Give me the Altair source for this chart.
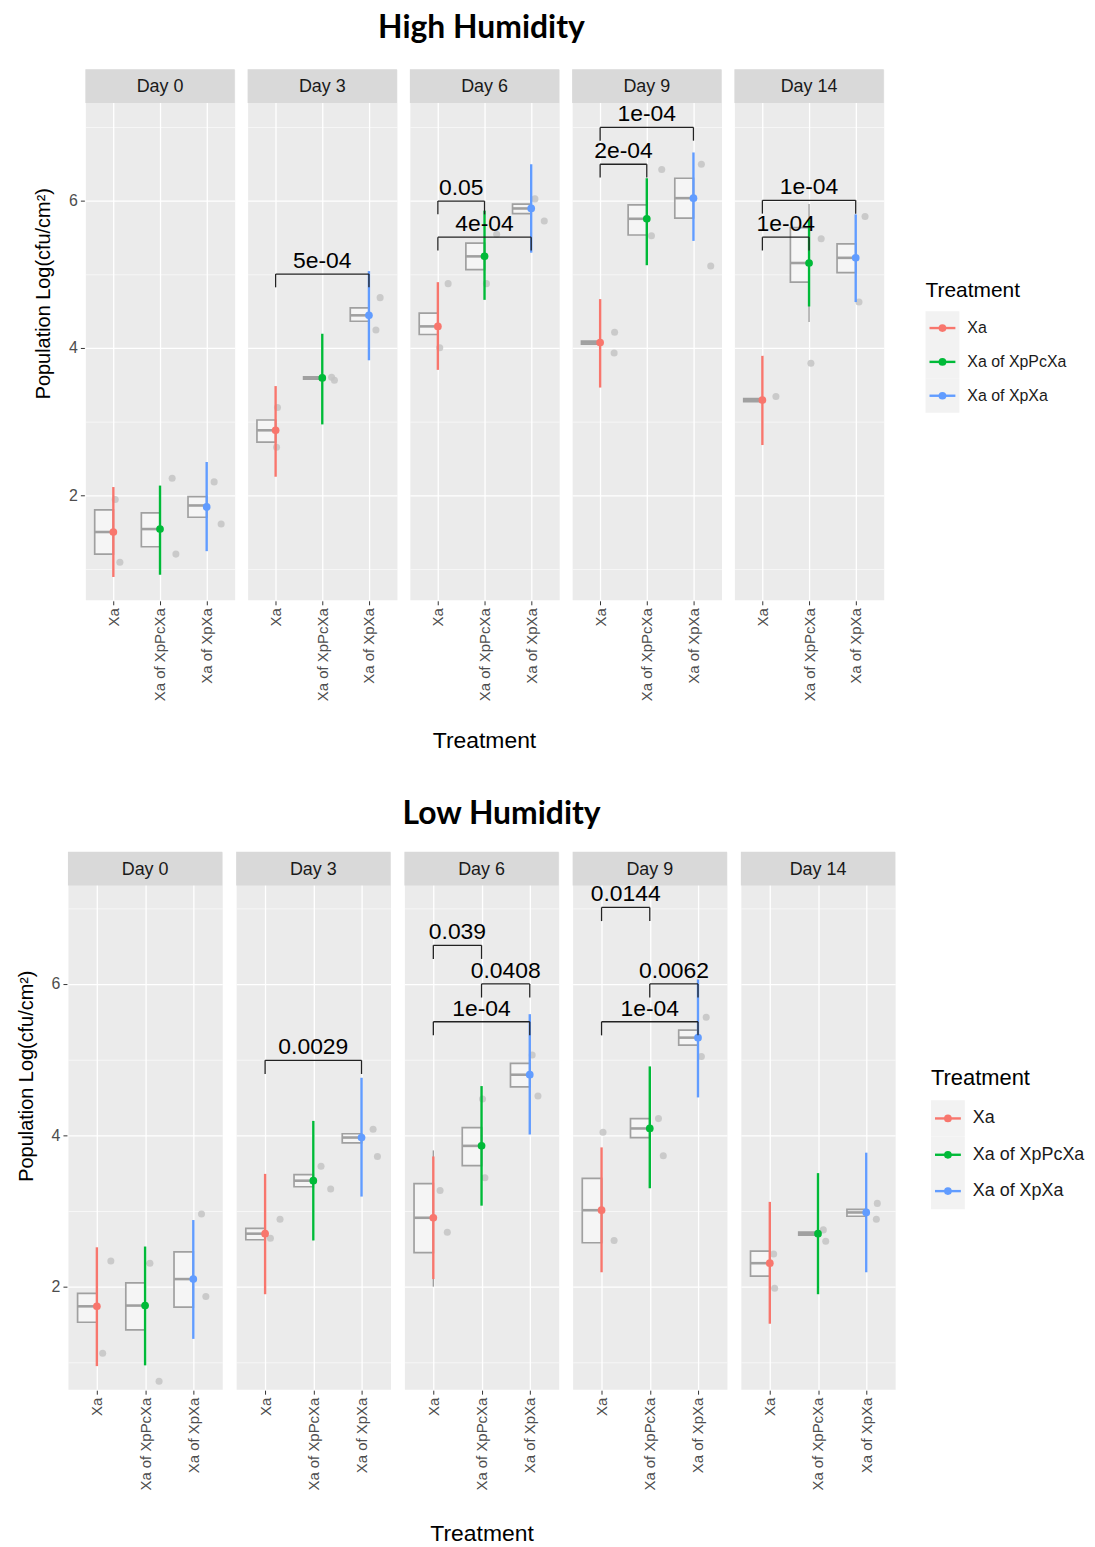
import json
import altair as alt
import pandas as pd

days = ["Day 0", "Day 3", "Day 6", "Day 9", "Day 14"]
treatments = ["Xa", "Xa of XpPcXa", "Xa of XpXa"]
colors = ["#F8766D", "#00BA38", "#619CFF"]

# ---------------- High humidity ----------------
hi_mean = [[1.50, 1.54, 1.84], [2.88, 3.59, 4.44], [4.29, 5.24, 5.89], [4.07, 5.75, 6.03], [3.29, 5.15, 5.22]]
hi_err_lo = [[0.89, 0.92, 1.24], [2.25, 2.96, 3.83], [3.70, 4.65, 5.29], [3.46, 5.12, 5.45], [2.68, 4.56, 4.62]]
hi_err_hi = [[2.11, 2.13, 2.45], [3.48, 4.19, 5.04], [4.89, 5.86, 6.49], [4.66, 6.30, 6.65], [3.89, 5.74, 5.81]]
hi_q1 = [[1.20, 1.30, 1.70], [2.72, 3.575, 4.36], [4.18, 5.06, 5.82], [4.05, 5.53, 5.76], [3.27, 4.89, 5.02]]
hi_med = [[1.50, 1.54, 1.86], [2.88, 3.59, 4.44], [4.29, 5.24, 5.89], [4.07, 5.75, 6.03], [3.29, 5.15, 5.22]]
hi_q3 = [[1.80, 1.76, 1.98], [3.02, 3.605, 4.54], [4.47, 5.42, 5.95], [4.09, 5.94, 6.30], [3.31, 5.63, 5.41]]
hi_wlo = [[1.20, 1.30, 1.70], [2.72, 3.575, 4.36], [4.18, 5.06, 5.82], [4.05, 5.53, 5.76], [3.27, 4.35, 5.02]]
hi_whi = [[1.80, 1.76, 1.98], [3.02, 3.605, 4.54], [4.47, 5.42, 5.95], [4.09, 5.94, 6.30], [3.31, 5.95, 5.41]]
# (day index, treatment index, horizontal jitter, value)
hi_points = [
    (0, 0, 0.04, 1.94), (0, 0, 0.14, 1.09), (0, 1, 0.26, 2.23), (0, 1, 0.34, 1.20), (0, 2, 0.16, 2.18), (0, 2, 0.31, 1.61),
    (1, 0, 0.04, 3.19), (1, 0, 0.02, 2.65), (1, 1, 0.20, 3.60), (1, 1, 0.26, 3.56), (1, 2, 0.24, 4.68), (1, 2, 0.15, 4.24),
    (2, 0, 0.22, 4.87), (2, 0, 0.04, 4.00), (2, 1, 0.26, 5.54), (2, 1, 0.04, 4.87), (2, 2, 0.08, 6.02), (2, 2, 0.28, 5.72),
    (3, 0, 0.31, 4.21), (3, 0, 0.30, 3.93), (3, 1, 0.32, 6.42), (3, 1, 0.10, 5.52), (3, 2, 0.17, 6.49), (3, 2, 0.37, 5.11),
    (4, 0, 0.29, 3.34), (4, 1, 0.26, 5.48), (4, 1, 0.04, 3.79), (4, 2, 0.20, 5.78), (4, 2, 0.07, 4.62),
]
# (day index, from treatment, to treatment, bracket height, label)
hi_brackets = [
    (1, 0, 2, 5.00, "5e-04"),
    (2, 0, 1, 5.99, "0.05"), (2, 0, 2, 5.50, "4e-04"),
    (3, 0, 1, 6.49, "2e-04"), (3, 0, 2, 6.99, "1e-04"),
    (4, 0, 2, 6.00, "1e-04"), (4, 0, 1, 5.50, "1e-04"),
]

# ---------------- Low humidity ----------------
lo_mean = [[1.74, 1.75, 2.10], [2.70, 3.40, 3.97], [2.91, 3.86, 4.80], [3.01, 4.09, 5.29], [2.31, 2.70, 2.98]]
lo_err_lo = [[0.95, 0.96, 1.31], [1.90, 2.61, 3.19], [2.10, 3.07, 4.01], [2.19, 3.30, 4.50], [1.51, 1.90, 2.19]]
lo_err_hi = [[2.52, 2.53, 2.88], [3.49, 4.19, 4.76], [3.72, 4.65, 5.60], [3.84, 4.91, 6.06], [3.12, 3.50, 3.77]]
lo_q1 = [[1.53, 1.43, 1.73], [2.62, 3.32, 3.90], [2.45, 3.60, 4.64], [2.58, 3.97, 5.19], [2.14, 2.68, 2.93]]
lo_med = [[1.74, 1.75, 2.10], [2.70, 3.40, 3.97], [2.91, 3.86, 4.80], [3.01, 4.09, 5.29], [2.31, 2.70, 2.98]]
lo_q3 = [[1.91, 2.05, 2.46], [2.77, 3.48, 4.02], [3.36, 4.10, 4.95], [3.43, 4.22, 5.39], [2.47, 2.72, 3.02]]
lo_wlo = [[1.53, 1.43, 1.73], [2.62, 3.32, 3.90], [2.00, 3.60, 4.64], [2.58, 3.97, 5.19], [2.14, 2.68, 2.93]]
lo_whi = [[1.91, 2.05, 2.46], [2.77, 3.48, 4.02], [3.80, 4.10, 4.95], [3.43, 4.22, 5.39], [2.47, 2.72, 3.02]]
lo_points = [
    (0, 0, 0.29, 2.34), (0, 0, 0.12, 1.12), (0, 1, 0.10, 2.31), (0, 1, 0.29, 0.75), (0, 2, 0.17, 2.96), (0, 2, 0.26, 1.87),
    (1, 0, 0.31, 2.89), (1, 0, 0.11, 2.64), (1, 1, 0.16, 3.59), (1, 1, 0.36, 3.29), (1, 2, 0.24, 4.08), (1, 2, 0.33, 3.72),
    (2, 0, 0.14, 3.27), (2, 0, 0.29, 2.72), (2, 1, 0.02, 4.48), (2, 1, 0.07, 3.44), (2, 2, 0.05, 5.06), (2, 2, 0.17, 4.52),
    (3, 0, 0.03, 4.04), (3, 0, 0.26, 2.61), (3, 1, 0.18, 4.22), (3, 1, 0.28, 3.73), (3, 2, 0.17, 5.56), (3, 2, 0.07, 5.04),
    (4, 0, 0.08, 2.43), (4, 0, 0.10, 1.98), (4, 1, 0.11, 2.75), (4, 1, 0.16, 2.60), (4, 2, 0.23, 3.10), (4, 2, 0.21, 2.89),
]
lo_brackets = [
    (1, 0, 2, 4.99, "0.0029"),
    (2, 0, 1, 6.51, "0.039"), (2, 1, 2, 6.00, "0.0408"), (2, 0, 2, 5.50, "1e-04"),
    (3, 0, 1, 7.01, "0.0144"), (3, 1, 2, 6.00, "0.0062"), (3, 0, 2, 5.50, "1e-04"),
]

FONT = "Liberation Sans"
BOX_HALF = 0.40
TIP = 0.18
STRIP = 34
color_scale = alt.Scale(domain=treatments, range=colors)


def legend_chart(H, width, title_y, row, first_y, title_size, label_size):
    ldf = pd.DataFrame({"Treatment": treatments, "i": list(range(len(treatments)))})
    n = len(treatments)
    ys = alt.Scale(domain=[-0.5, n - 0.5], range=[first_y - row / 2, first_y + (n - 0.5) * row])
    base = alt.Chart(ldf).transform_calculate(lo="datum.i - 0.5", hi="datum.i + 0.5")
    bg = base.mark_rect(color="#f2f2f2").encode(
        x=alt.value(0), x2=alt.value(34), y=alt.Y("lo:Q", scale=ys, axis=None), y2="hi:Q")
    line = base.mark_rule(strokeWidth=2.4).encode(
        x=alt.value(4), x2=alt.value(30), y=alt.Y("i:Q", scale=ys, axis=None),
        color=alt.Color("Treatment:N", scale=color_scale, legend=None))
    dot = base.mark_point(filled=True, size=60, opacity=1).encode(
        x=alt.value(17), y=alt.Y("i:Q", scale=ys, axis=None),
        color=alt.Color("Treatment:N", scale=color_scale, legend=None))
    lab = base.mark_text(align="left", baseline="middle", fontSize=label_size, color="#1a1a1a",
                         font=FONT).encode(
        x=alt.value(42), y=alt.Y("i:Q", scale=ys, axis=None), text="Treatment:N")
    ttl = base.transform_filter(alt.datum.i == 0).mark_text(
        align="left", baseline="middle", fontSize=title_size, color="black", font=FONT).encode(
        x=alt.value(0), y=alt.value(title_y), text=alt.value("Treatment"))
    return alt.layer(bg, line, dot, lab, ttl).properties(
        width=width, height=H, view=alt.ViewBackground(fill="white", stroke="transparent"))


def build(title, mean, elo, ehi, q1, med, q3, wlo, whi, pts, brackets,
          W, panel_px, ymin, ymax, spacing, title_dx, title_offset,
          leg_gap, leg_width, leg_title_y, leg_row, leg_first, leg_title_size, leg_label_size,
          xtitle_pad):
    rows = []
    for d, day in enumerate(days):
        rows.append(dict(kind="strip", Day=day))
        for t, tr in enumerate(treatments):
            rows.append(dict(kind="stat", Day=day, Treatment=tr, x=t + 1, xl=t + 1 - BOX_HALF,
                             mean=mean[d][t], elo=elo[d][t], ehi=ehi[d][t],
                             q1=q1[d][t], med=med[d][t], q3=q3[d][t],
                             wlo=wlo[d][t], whi=whi[d][t]))
    for d, t, dx, v in pts:
        rows.append(dict(kind="pt", Day=days[d], x=t + 1 + dx, v=v))
    for d, a, b, y, lab in brackets:
        rows.append(dict(kind="br", Day=days[d], x1=a + 1, x2=b + 1, xm=(a + b) / 2 + 1,
                         y=y, yt=y - TIP, label=lab))
    df = pd.DataFrame(rows)

    ytop = ymax + STRIP * (ymax - ymin) / panel_px
    H = panel_px + STRIP
    even = "datum.value % 2 === 0"
    yscale = alt.Scale(domain=[ymin, ytop], nice=False, zero=False)
    yaxis = alt.Axis(values=[1, 2, 3, 4, 5, 6, 7],
                     labelExpr=f"{even} ? datum.label : ''",
                     tickOpacity={"condition": {"test": even, "value": 1}, "value": 0},
                     gridWidth={"condition": {"test": even, "value": 1.3}, "value": 0.6},
                     gridColor="white", domain=False, tickColor="#333333", tickSize=4,
                     labelColor="#4d4d4d", labelFontSize=16, labelPadding=3,
                     title="Population Log(cfu/cm²)", titleFontSize=20, titleFontWeight="normal",
                     titleColor="black", titlePadding=15, titleY=225)
    xscale = alt.Scale(domain=[0.4, 3.6], nice=False, zero=False)
    lab_expr = "[''," + ",".join(json.dumps(t) for t in treatments) + "][datum.value]"
    xaxis = alt.Axis(values=[1, 2, 3], labelExpr=lab_expr, labelAngle=270, grid=True,
                     gridColor="white", gridWidth=1.3, domain=False, tickColor="#333333",
                     tickSize=4, labelColor="#4d4d4d", labelFontSize=15, labelPadding=3,
                     title=None)

    def X(f):
        return alt.X(f"{f}:Q", scale=xscale, axis=xaxis)

    def Y(f):
        return alt.Y(f"{f}:Q", scale=yscale, axis=yaxis)

    base = alt.Chart()
    stat = base.transform_filter(alt.datum.kind == "stat")
    ptd = base.transform_filter(alt.datum.kind == "pt")
    brd = base.transform_filter(alt.datum.kind == "br")
    strd = base.transform_filter(alt.datum.kind == "strip")

    box = stat.mark_rect(fill="#f7f7f7", fillOpacity=0.85, stroke="#a0a0a0", strokeWidth=1.7).encode(
        x=X("xl"), x2="x:Q", y=Y("q1"), y2="q3:Q")
    median = stat.mark_rule(color="#a0a0a0", strokeWidth=2.6).encode(x=X("xl"), x2="x:Q", y=Y("med"))
    whisk = stat.mark_rule(color="#a0a0a0", strokeWidth=1.4).encode(x=X("x"), y=Y("wlo"), y2="whi:Q")
    gpts = ptd.mark_circle(size=50, color="#c4c4c4", opacity=0.85).encode(x=X("x"), y=Y("v"))
    err = stat.mark_rule(strokeWidth=2.4).encode(
        x=X("x"), y=Y("elo"), y2="ehi:Q",
        color=alt.Color("Treatment:N", scale=color_scale, legend=None))
    mpt = stat.mark_point(filled=True, size=60, opacity=1).encode(
        x=X("x"), y=Y("mean"),
        color=alt.Color("Treatment:N", scale=color_scale, legend=None))
    bh = brd.mark_rule(color="#222222", strokeWidth=1.3).encode(x=X("x1"), x2="x2:Q", y=Y("y"))
    bt1 = brd.mark_rule(color="#222222", strokeWidth=1.3).encode(x=X("x1"), y=Y("yt"), y2="y:Q")
    bt2 = brd.mark_rule(color="#222222", strokeWidth=1.3).encode(x=X("x2"), y=Y("yt"), y2="y:Q")
    btxt = brd.mark_text(fontSize=23, baseline="bottom", dy=-1, color="black", font=FONT).encode(
        x=X("xm"), y=Y("y"), text="label:N")
    srect = strd.mark_rect(color="#d9d9d9").encode(
        x=alt.value(0), x2=alt.value(W), y=alt.value(0), y2=alt.value(STRIP))
    stext = strd.mark_text(fontSize=18, color="#1a1a1a", font=FONT).encode(
        x=alt.value(W / 2), y=alt.value(STRIP / 2 + 1), text="Day:N")

    layered = alt.layer(box, median, whisk, gpts, err, mpt, bh, bt1, bt2, btxt, srect, stext).properties(
        width=W, height=H)
    facet = layered.facet(
        column=alt.Column("Day:N", sort=days, title="Treatment",
                          header=alt.Header(labels=False, titleOrient="bottom", titleFontSize=23,
                                            titleFontWeight="normal", titleColor="black",
                                            titleFont=FONT, titlePadding=xtitle_pad)),
        data=df, spacing=spacing,
    )
    leg = legend_chart(H, leg_width, leg_title_y, leg_row, leg_first, leg_title_size, leg_label_size)
    return alt.hconcat(facet, leg, spacing=leg_gap).properties(
        title=alt.TitleParams(title, font="Lato", fontSize=32, fontWeight="bold",
                              color="black", anchor="start", dx=title_dx, offset=title_offset))


top = build("High Humidity", hi_mean, hi_err_lo, hi_err_hi, hi_q1, hi_med, hi_q3, hi_wlo, hi_whi,
            hi_points, hi_brackets, W=150, panel_px=499, ymin=0.58, ymax=7.32, spacing=11,
            title_dx=346, title_offset=24, leg_gap=40, leg_width=150, leg_title_y=223,
            leg_row=34, leg_first=260, leg_title_size=21, leg_label_size=16, xtitle_pad=19)
bottom = build("Low Humidity", lo_mean, lo_err_lo, lo_err_hi, lo_q1, lo_med, lo_q3, lo_wlo, lo_whi,
               lo_points, lo_brackets, W=155, panel_px=506, ymin=0.645, ymax=7.30, spacing=12,
               title_dx=388, title_offset=20, leg_gap=34, leg_width=162, leg_title_y=227,
               leg_row=36.5, leg_first=268, leg_title_size=22, leg_label_size=18, xtitle_pad=22)

chart = alt.vconcat(top, bottom, spacing=45, center=True).configure(
    font=FONT, background="white", padding={"left": 16, "top": 8, "right": 2, "bottom": 5}
).configure_view(fill="#ebebeb", stroke="transparent")

chart.save("out.html", embed_options={"renderer": "svg", "actions": False})
